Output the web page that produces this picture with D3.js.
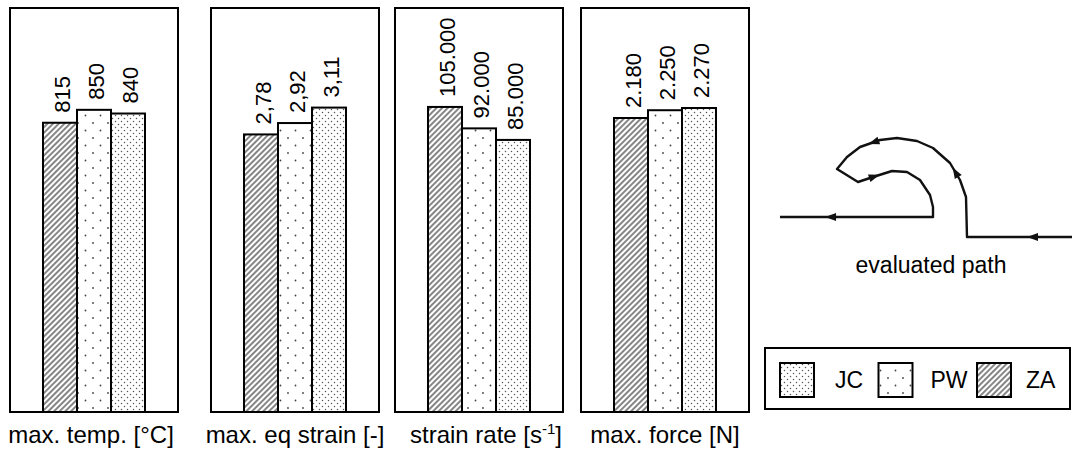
<!DOCTYPE html>
<html>
<head>
<meta charset="utf-8">
<script src="https://cdn.jsdelivr.net/npm/d3@7"></script>
<style>
  body { margin: 0; background: #fff; }
  text { font-family: "Liberation Sans", Arial, sans-serif; fill: #000; }
</style>
</head>
<body>
<svg id="chart" width="1072" height="453"></svg>
<script>
// data
var panels = ["max. temp. [°C]", "max. eq strain [-]", "strain rate", "max. force [N]"];
var series = ["ZA", "PW", "JC"];
var legendOrder = ["JC", "PW", "ZA"];
var zaValues = [815, 2.78, 105000, 2180];
var pwValues = [850, 2.92, 92000, 2250];
var jcValues = [840, 3.11, 85000, 2270];
var decimals = [0, 2, 0, 0];
// value axis of each panel (no axis drawn in the original)
var yDomains = [[31, 1126], [-0.634, 4.335], [-80000, 165000], [-466, 3170]];

// sketch of the evaluated tool path, in pixel space of the inset
var pathPoints = [[1072,237],[967,237],[966,197],[960,180],[950,163],[933,148],[917,141],[897,138],
  [880,140],[860,147],[847,157],[837,169],[858,182],[873,177],[892,171],[907,172],[920,180],
  [930,195],[933,207],[933,217],[780,217]];
var arrowSpots = [[1032,237],[955,172],[873,142],[875,177],[830,217]];

var svg = d3.select("#chart");
var loc = d3.formatLocale({decimal: ",", thousands: ".", grouping: [3], currency: ["", ""]});

var yTop = 8, yBottom = 412, panelW = 168;
var panelLeft = [10, 211, 395, 581];
var labelShift = [-3, 0, 7, 0];

// patterns
var defs = svg.append("defs");
var hatch = defs.append("pattern").attr("id", "p-ZA").attr("patternUnits", "userSpaceOnUse")
    .attr("width", 4).attr("height", 4).attr("patternTransform", "rotate(45)");
hatch.append("rect").attr("width", 4).attr("height", 4).attr("fill", "#fff");
hatch.append("line").attr("x1", 1).attr("y1", 0).attr("x2", 1).attr("y2", 4)
    .attr("stroke", "#444").attr("stroke-width", 1.3);

var sparse = defs.append("pattern").attr("id", "p-PW").attr("patternUnits", "userSpaceOnUse")
    .attr("width", 15).attr("height", 15);
sparse.append("rect").attr("width", 15).attr("height", 15).attr("fill", "#fff");
[[3, 3], [10.5, 10.5]].forEach(function(p) {
  sparse.append("circle").attr("cx", p[0]).attr("cy", p[1]).attr("r", 0.9).attr("fill", "#444");
});

var dense = defs.append("pattern").attr("id", "p-JC").attr("patternUnits", "userSpaceOnUse")
    .attr("width", 6).attr("height", 6);
dense.append("rect").attr("width", 6).attr("height", 6).attr("fill", "#fff");
[[1.5, 1.5], [4.5, 4.5]].forEach(function(p) {
  dense.append("circle").attr("cx", p[0]).attr("cy", p[1]).attr("r", 0.75).attr("fill", "#555");
});

var valuesBySeries = {ZA: zaValues, PW: pwValues, JC: jcValues};

panels.forEach(function(name, i) {
  var x0 = panelLeft[i], cx = x0 + panelW / 2;
  var g = svg.append("g");
  g.append("rect").attr("x", x0).attr("y", yTop).attr("width", panelW).attr("height", yBottom - yTop)
      .attr("fill", "#fff").attr("stroke", "#000").attr("stroke-width", 2);

  var x = d3.scaleBand().domain(series).range([cx - 51, cx + 51]);
  var y = d3.scaleLinear().domain(yDomains[i]).range([yBottom, yTop]);
  var fmt = loc.format(decimals[i] ? ",." + decimals[i] + "f" : ",d");

  var rows = series.map(function(s) { return {s: s, v: valuesBySeries[s][i]}; });

  g.selectAll("rect.bar").data(rows).enter().append("rect")
      .attr("class", "bar")
      .attr("x", function(d) { return x(d.s); })
      .attr("y", function(d) { return y(d.v); })
      .attr("width", x.bandwidth())
      .attr("height", function(d) { return yBottom - y(d.v); })
      .attr("fill", function(d) { return "url(#p-" + d.s + ")"; })
      .attr("stroke", "#000").attr("stroke-width", 2);

  g.selectAll("text.val").data(rows).enter().append("text")
      .attr("class", "val")
      .attr("transform", function(d) {
        return "translate(" + (x(d.s) + x.bandwidth() / 2 + 2) + "," + (y(d.v) - 10) + ") rotate(-90)";
      })
      .attr("dy", "0.36em")
      .style("font-size", "22px")
      .text(function(d) { return fmt(d.v); });

  var lbl = g.append("text").attr("x", cx + labelShift[i]).attr("y", 443).attr("text-anchor", "middle")
      .style("font-size", "24px").text(name);
  if (i === 2) {
    lbl.text("strain rate [s");
    lbl.append("tspan").attr("dy", -9).style("font-size", "15px").text("-1");
    lbl.append("tspan").attr("dy", 9).text("]");
  }
});

// evaluated path sketch
var line = d3.line();
var trace = svg.append("path").attr("d", line(pathPoints))
    .attr("fill", "none").attr("stroke", "#111").attr("stroke-width", 2.4)
    .attr("stroke-linejoin", "round");
var node = trace.node(), total = node.getTotalLength();
arrowSpots.forEach(function(a) {
  var best = 0, bestD = Infinity;
  for (var l = 0; l <= total; l += 0.5) {
    var p = node.getPointAtLength(l);
    var d = (p.x - a[0]) * (p.x - a[0]) + (p.y - a[1]) * (p.y - a[1]);
    if (d < bestD) { bestD = d; best = l; }
  }
  var p0 = node.getPointAtLength(Math.max(0, best - 3)), p1 = node.getPointAtLength(Math.min(total, best + 3));
  var ang = Math.atan2(p1.y - p0.y, p1.x - p0.x) * 180 / Math.PI;
  var c = node.getPointAtLength(best);
  svg.append("path").attr("d", "M5,0L-6,-4L-6,4Z").attr("fill", "#111")
      .attr("transform", "translate(" + c.x + "," + c.y + ") rotate(" + ang + ")");
});
svg.append("text").attr("x", 931).attr("y", 273).attr("text-anchor", "middle")
    .style("font-size", "23px").text("evaluated path");

// legend
var lg = svg.append("g");
lg.append("rect").attr("x", 765).attr("y", 348).attr("width", 305).attr("height", 61)
    .attr("fill", "#fff").attr("stroke", "#000").attr("stroke-width", 2);
legendOrder.forEach(function(s, i) {
  var sx = 780 + i * 98.5;
  lg.append("rect").attr("x", sx).attr("y", 363).attr("width", 34).attr("height", 34)
      .attr("fill", "url(#p-" + s + ")").attr("stroke", "#000").attr("stroke-width", 2);
  lg.append("text").attr("x", sx + 55 - i * 3).attr("y", 388).style("font-size", "23px").text(s);
});
</script>
</body>
</html>
